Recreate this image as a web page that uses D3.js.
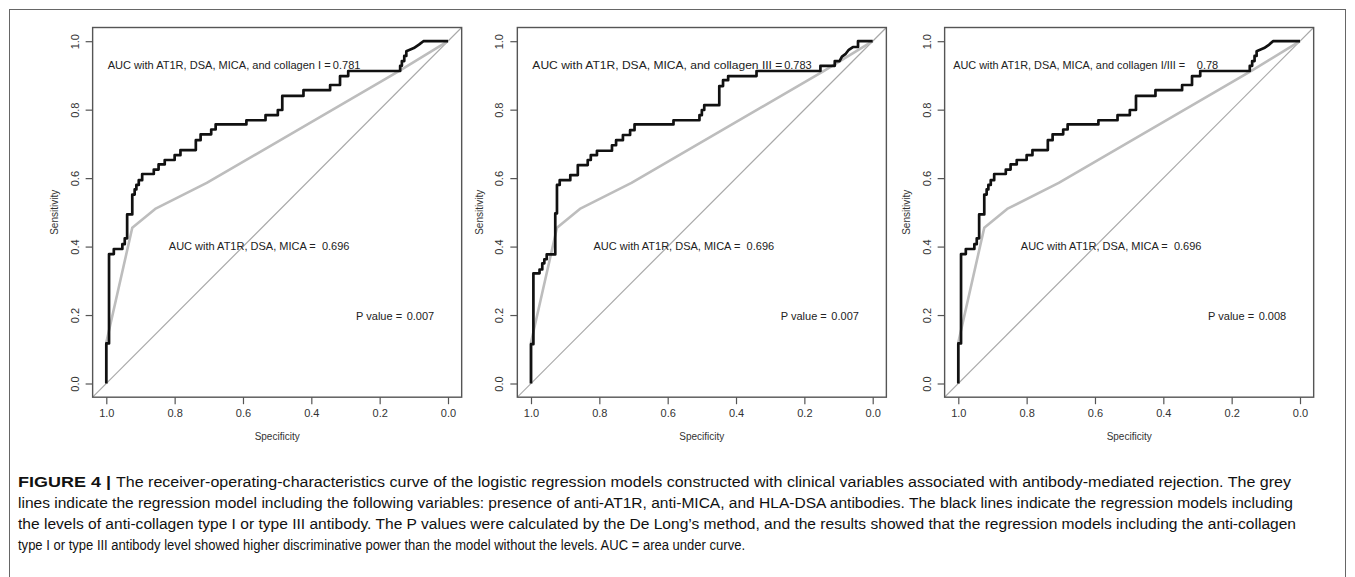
<!DOCTYPE html>
<html><head><meta charset="utf-8">
<script src="https://cdn.jsdelivr.net/npm/d3@7"></script>
<style>
html,body{margin:0;padding:0;background:#fff;}
svg{display:block;}
</style></head>
<body>
<svg id="chart" width="1355" height="577"></svg>
<script>
// ---------- DATA ----------
const specTicks = [1.0, 0.8, 0.6, 0.4, 0.2, 0.0];
const sensTicks = [0.0, 0.2, 0.4, 0.6, 0.8, 1.0];
const aucLabels = [
  "AUC with AT1R, DSA, MICA, and collagen I =",
  "AUC with AT1R, DSA, MICA, and collagen III =",
  "AUC with AT1R, DSA, MICA, and collagen I/III ="
];
const aucValues = ["0.781", "0.783", "0.78"];
const baseLabel = "AUC with AT1R, DSA, MICA =";
const baseValue = "0.696";
const pLabel = "P value =";
const pValues = ["0.007", "0.007", "0.008"];

// grey ROC: model with AT1R, DSA, MICA (spec, sens)
const greyROC = [[1,0],[1,0.12],[0.924,0.455],[0.857,0.51],[0.706,0.586],[0.14,0.915],[0,1]];

// black ROC: collagen I model
const rocCollagenI = [[1,0],[1,0.117],[0.992,0.117],[0.992,0.378],[0.978,0.378],[0.978,0.393],[0.953,0.393],[0.953,0.407],[0.946,0.407],[0.946,0.424],[0.939,0.424],[0.939,0.494],[0.924,0.494],[0.924,0.552],[0.917,0.552],[0.917,0.567],[0.912,0.567],[0.912,0.58],[0.905,0.58],[0.905,0.594],[0.895,0.594],[0.895,0.612],[0.861,0.612],[0.861,0.625],[0.847,0.625],[0.847,0.64],[0.829,0.64],[0.829,0.653],[0.80,0.653],[0.80,0.667],[0.783,0.667],[0.783,0.682],[0.738,0.682],[0.738,0.711],[0.724,0.711],[0.724,0.728],[0.693,0.728],[0.693,0.742],[0.68,0.742],[0.68,0.757],[0.59,0.757],[0.59,0.769],[0.534,0.769],[0.534,0.784],[0.498,0.784],[0.498,0.799],[0.485,0.799],[0.485,0.84],[0.423,0.84],[0.423,0.857],[0.345,0.857],[0.345,0.872],[0.316,0.872],[0.316,0.898],[0.292,0.898],[0.292,0.913],[0.14,0.913],[0.14,0.928],[0.135,0.928],[0.135,0.942],[0.128,0.942],[0.128,0.957],[0.122,0.957],[0.122,0.971],[0.10,0.98],[0.085,0.99],[0.072,1],[0,1]];

// black ROC: collagen III model
const rocCollagenIII = [[1,0],[1,0.115],[0.993,0.115],[0.993,0.322],[0.975,0.322],[0.975,0.333],[0.967,0.333],[0.967,0.351],[0.961,0.351],[0.961,0.363],[0.954,0.363],[0.954,0.377],[0.929,0.377],[0.929,0.497],[0.924,0.497],[0.924,0.58],[0.916,0.58],[0.916,0.594],[0.885,0.594],[0.885,0.609],[0.863,0.609],[0.863,0.638],[0.834,0.638],[0.834,0.653],[0.825,0.653],[0.825,0.667],[0.807,0.667],[0.807,0.68],[0.763,0.68],[0.763,0.696],[0.751,0.696],[0.751,0.711],[0.731,0.711],[0.731,0.726],[0.71,0.726],[0.71,0.74],[0.697,0.74],[0.697,0.757],[0.583,0.757],[0.583,0.769],[0.507,0.769],[0.507,0.784],[0.50,0.784],[0.50,0.799],[0.493,0.799],[0.493,0.813],[0.449,0.813],[0.449,0.869],[0.438,0.869],[0.438,0.886],[0.423,0.886],[0.423,0.898],[0.34,0.898],[0.34,0.913],[0.153,0.913],[0.153,0.928],[0.111,0.928],[0.111,0.942],[0.097,0.942],[0.09,0.955],[0.08,0.962],[0.07,0.975],[0.058,0.983],[0.043,0.983],[0.043,1],[0,1]];

// black ROC: collagen I/III model
const rocCollagenIandIII = [[1,0],[1,0.117],[0.992,0.117],[0.992,0.378],[0.978,0.378],[0.978,0.393],[0.953,0.393],[0.953,0.407],[0.946,0.407],[0.946,0.424],[0.939,0.424],[0.939,0.494],[0.924,0.494],[0.924,0.552],[0.917,0.552],[0.917,0.567],[0.912,0.567],[0.912,0.58],[0.905,0.58],[0.905,0.594],[0.895,0.594],[0.895,0.612],[0.861,0.612],[0.861,0.625],[0.847,0.625],[0.847,0.64],[0.829,0.64],[0.829,0.653],[0.80,0.653],[0.80,0.667],[0.783,0.667],[0.783,0.682],[0.738,0.682],[0.738,0.711],[0.724,0.711],[0.724,0.728],[0.693,0.728],[0.693,0.742],[0.68,0.742],[0.68,0.757],[0.59,0.757],[0.59,0.769],[0.534,0.769],[0.534,0.784],[0.498,0.784],[0.498,0.799],[0.48,0.799],[0.48,0.84],[0.423,0.84],[0.423,0.857],[0.345,0.857],[0.345,0.872],[0.316,0.872],[0.316,0.898],[0.292,0.898],[0.292,0.913],[0.147,0.913],[0.147,0.928],[0.14,0.928],[0.14,0.942],[0.133,0.942],[0.133,0.957],[0.127,0.957],[0.127,0.971],[0.105,0.98],[0.09,0.99],[0.079,1],[0,1]];

const blackROCs = [rocCollagenI, rocCollagenIII, rocCollagenIandIII];

const captionBold = "FIGURE 4 |";
const captionLines = [
  "The receiver-operating-characteristics curve of the logistic regression models constructed with clinical variables associated with antibody-mediated rejection. The grey",
  "lines indicate the regression model including the following variables: presence of anti-AT1R, anti-MICA, and HLA-DSA antibodies. The black lines indicate the regression models including",
  "the levels of anti-collagen type I or type III antibody. The P values were calculated by the De Long’s method, and the results showed that the regression models including the anti-collagen",
  "type I or type III antibody level showed higher discriminative power than the model without the levels. AUC = area under curve."
];

// ---------- LAYOUT ----------
const svg = d3.select("#chart");
const panelX1 = [106.3, 531, 958.3];   // pixel of spec = 1.0
const unit = 341.7;
const yZero = 383.5, yOne = 41.2;
const fontAxis = "'Liberation Sans', Arial, Helvetica, sans-serif";

// outer frame
svg.append("rect").attr("x", 9.5).attr("y", 9.5).attr("width", 1336).attr("height", 600)
  .attr("fill", "none").attr("stroke", "#666").attr("stroke-width", 1);

// annotation positions (data units) and label widths (px)
const aucLabelSpec = [0.996, 0.996, 1.015];
const aucLabelWidth = [223, 250, 232];
const aucValueSpec = [0.337, 0.259, 0.302];

panelX1.forEach((px, i) => {
  const x = d3.scaleLinear().domain([1, 0]).range([px, px + unit]);
  const y = d3.scaleLinear().domain([0, 1]).range([yZero, yOne]);
  const g = svg.append("g");
  const bx0 = x(1.04), bx1 = x(-0.04), by0 = y(1.04), by1 = y(-0.04);

  const clipId = "clip" + i;
  svg.append("clipPath").attr("id", clipId).append("rect")
    .attr("x", bx0).attr("y", by0).attr("width", bx1 - bx0).attr("height", by1 - by0);

  // diagonal reference line
  g.append("line").attr("clip-path", `url(#${clipId})`)
    .attr("x1", x(1.04)).attr("y1", y(-0.04)).attr("x2", x(-0.04)).attr("y2", y(1.04))
    .attr("stroke", "#a8a8a8").attr("stroke-width", 1.2);

  const line = d3.line().x(d => x(d[0])).y(d => y(d[1]));
  g.append("path").datum(greyROC).attr("d", line)
    .attr("fill", "none").attr("stroke", "#bdbdbd").attr("stroke-width", 2.6)
    .attr("stroke-linejoin", "round");
  g.append("path").datum(blackROCs[i]).attr("d", line)
    .attr("fill", "none").attr("stroke", "#111").attr("stroke-width", 2.7)
    .attr("stroke-linejoin", "round");

  // box
  g.append("rect").attr("x", bx0).attr("y", by0).attr("width", bx1 - bx0).attr("height", by1 - by0)
    .attr("fill", "none").attr("stroke", "#555").attr("stroke-width", 1.4);

  // x axis
  const xAxis = d3.axisBottom(x).tickValues(specTicks).tickFormat(d3.format(".1f")).tickSize(7).tickPadding(5);
  const xg = g.append("g").attr("transform", `translate(0,${by1})`).call(xAxis);
  xg.select(".domain").remove();
  xg.selectAll("line").attr("stroke", "#555").attr("stroke-width", 1.2);
  xg.selectAll("text").attr("font-family", fontAxis).attr("font-size", 11).attr("fill", "#333");

  // y axis
  const yAxis = d3.axisLeft(y).tickValues(sensTicks).tickFormat(d3.format(".1f")).tickSize(7).tickPadding(0);
  const yg = g.append("g").attr("transform", `translate(${bx0},0)`).call(yAxis);
  yg.select(".domain").remove();
  yg.selectAll("line").attr("stroke", "#555").attr("stroke-width", 1.2);
  yg.selectAll("text")
    .attr("font-family", fontAxis).attr("font-size", 11).attr("fill", "#333")
    .attr("x", null).attr("dy", null)
    .attr("text-anchor", "middle")
    .attr("transform", "translate(-14,0) rotate(-90)");

  // axis titles
  g.append("text").attr("x", (x(1) + x(0)) / 2).attr("y", 440)
    .attr("text-anchor", "middle").attr("font-family", fontAxis).attr("font-size", 10)
    .attr("fill", "#333").text("Specificity");
  g.append("text").attr("transform", `translate(${bx0 - 34.5},${(y(0) + y(1)) / 2}) rotate(-90)`)
    .attr("text-anchor", "middle").attr("font-family", fontAxis).attr("font-size", 10)
    .attr("fill", "#333").text("Sensitivity");

  // annotations
  const ann = (sx, sy, txt) => g.append("text").attr("x", x(sx)).attr("y", y(sy))
    .attr("dy", "0.35em").attr("font-family", fontAxis).attr("font-size", 11)
    .attr("fill", "#222").text(txt);
  ann(aucLabelSpec[i], 0.93, aucLabels[i])
    .attr("textLength", aucLabelWidth[i]).attr("lengthAdjust", "spacingAndGlyphs");
  ann(aucValueSpec[i], 0.93, aucValues[i]);
  ann(0.817, 0.40, baseLabel);
  ann(0.369, 0.40, baseValue);
  ann(0.269, 0.198, pLabel);
  ann(0.121, 0.198, pValues[i]);
});

// caption
const capFont = "'Liberation Sans', Arial, sans-serif";
const capY = [486.5, 507.5, 528.5, 549.5];
svg.append("text").attr("x", 18).attr("y", capY[0]).attr("font-family", capFont)
  .attr("font-size", 15.5).attr("font-weight", "bold").attr("fill", "#111")
  .attr("textLength", 93).attr("lengthAdjust", "spacingAndGlyphs").text(captionBold);
const capEnds = [1291, 1293, 1296, 745];
captionLines.forEach((t, i) => {
  const x0 = i === 0 ? 116 : 18;
  svg.append("text").attr("x", x0).attr("y", capY[i]).attr("font-family", capFont)
    .attr("font-size", 15.5).attr("fill", "#111").text(t)
    .attr("textLength", capEnds[i] - x0).attr("lengthAdjust", "spacingAndGlyphs");
});
</script>
</body></html>
